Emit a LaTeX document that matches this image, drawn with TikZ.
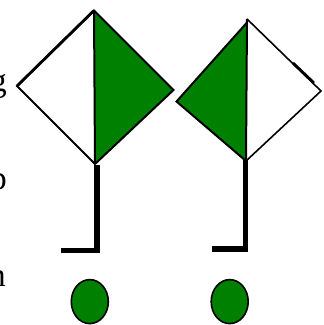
\documentclass[tikz,border=0pt]{standalone}
\usepackage{fontspec}
\setmainfont{Liberation Serif}
\definecolor{dgreen}{RGB}{0,128,0}
\tikzset{
  px/.style={x=0.75pt,y=-0.75pt},
  outline/.style={draw=black,line width=1.5pt,line join=miter},
  thinline/.style={draw=black,line width=1.2pt,line join=miter},
  heavy/.style={draw=black,line width=2.1pt},
  post/.style={draw=black,line width=4.2pt,line join=miter},
  blob/.style={draw=black,line width=1.2pt,fill=dgreen},
  frag/.style={inner sep=0pt,font=\fontsize{25}{25}\selectfont,anchor=base east}
}
\begin{document}
\begin{tikzpicture}[px]
\useasboundingbox (0,0) rectangle (324,325);
\fill[white] (0,0) rectangle (324,325);
% left diamond
\coordinate (lt) at (94,10.5);
\coordinate (lr) at (173.5,90);
\coordinate (lb) at (95,164);
\coordinate (ll) at (17,86);
\fill[dgreen] (lt)--(lr)--(lb)--cycle;
\draw[outline] (lt)--(lr)--(lb)--(ll)--cycle;
\draw[outline] (lt)--(lb);
\draw[heavy] (ll)--(lt);
% right diamond
\coordinate (rt) at (247,19);
\coordinate (rg) at (247,22.5);
\coordinate (rr) at (321,91);
\coordinate (rb) at (246,161);
\coordinate (rl) at (176.5,101.5);
\fill[dgreen] (rg)--(rb)--(rl)--cycle;
\draw[thinline] (rt)--(rr)--(rb);
\draw[outline] (rb)--(rl)--(rg);
\draw[outline] (rt)--(rb);
\coordinate (s1) at (293,63);
\coordinate (s2) at (314,83);
\draw[heavy] (s1)--(s2);
% posts
\coordinate (p1a) at (96.8,165);
\coordinate (p1b) at (96.8,250.3);
\coordinate (p1c) at (61,250.3);
\coordinate (p2a) at (245.5,160);
\coordinate (p2b) at (245.5,248.7);
\coordinate (p2c) at (212,248.7);
\draw[post] (p1a)--(p1b)--(p1c);
\draw[post] (p2a)--(p2b)--(p2c);
% ovals
\draw[blob] (89.8,301.6) ellipse (18.5 and 22);
\draw[blob] (229.7,301.6) ellipse (18.5 and 22);
% text fragments
\node[frag] (tg) at (7,91) {g};
\node[frag] (tp) at (7,189) {p};
\node[frag] (tn) at (6,286) {n};
\end{tikzpicture}
\end{document}
